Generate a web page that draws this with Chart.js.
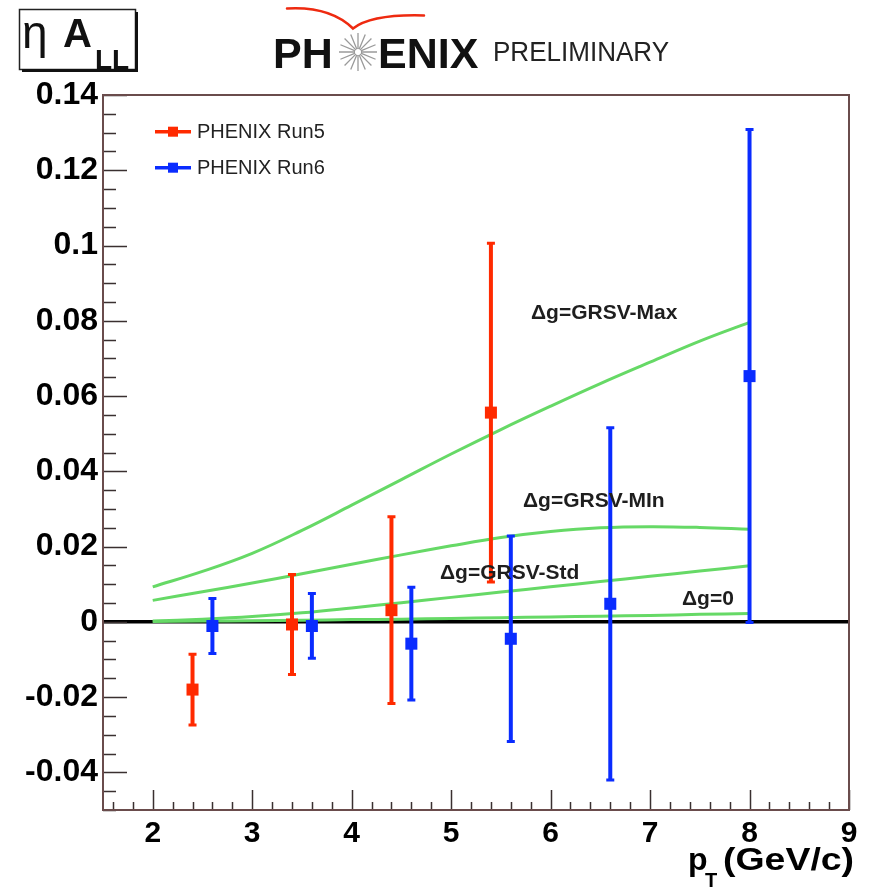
<!DOCTYPE html>
<html><head><meta charset="utf-8">
<script src="https://cdn.jsdelivr.net/npm/chart.js@4.4.1/dist/chart.umd.min.js"></script>
<style>html,body{margin:0;padding:0;background:#fff}canvas{display:block}</style>
</head><body>
<canvas id="c" width="870" height="888"></canvas>
<script>
// ---- data ----
const seriesNames = ['PHENIX Run5', 'PHENIX Run6'];
const pt5   = [2.4, 3.4, 4.4, 5.4];
const asym5 = [-0.0180, -0.0007, 0.0031, 0.0556];
const err5  = [0.0094, 0.0133, 0.0248, 0.0450];
const pt6   = [2.6, 3.6, 4.6, 5.6, 6.6, 8.0];
const asym6 = [-0.0011, -0.0011, -0.0058, -0.0045, 0.0048, 0.0653];
const err6  = [0.0073, 0.0086, 0.0150, 0.0273, 0.0468, 0.0655];

const theoryPt = [2.0, 2.5, 3.0, 3.5, 4.0, 4.5, 5.0, 5.5, 6.0, 6.5, 7.0, 7.5, 8.0];
const grsvMax  = [0.0093, 0.0134, 0.0182, 0.0243, 0.0310, 0.0378, 0.0446, 0.0511, 0.0573, 0.0633, 0.0690, 0.0746, 0.0796];
const grsvMin  = [0.0057, 0.0080, 0.0103, 0.0128, 0.0153, 0.0178, 0.0202, 0.0224, 0.0240, 0.0250, 0.0253, 0.0251, 0.0246];
const grsvStd  = [0.0002, 0.0007, 0.0014, 0.0024, 0.0037, 0.0051, 0.0065, 0.0079, 0.0093, 0.0107, 0.0121, 0.0135, 0.0149];
const dgZero   = [0.0001, 0.0002, 0.0003, 0.0004, 0.0006, 0.0007, 0.0009, 0.0011, 0.0013, 0.0015, 0.0017, 0.0020, 0.0022];
const curveNames = ['\u0394g=GRSV-Max', '\u0394g=GRSV-MIn', '\u0394g=GRSV-Std', '\u0394g=0'];

const zeroLineX = [1.5, 9];
const xTickVals   = [2, 3, 4, 5, 6, 7, 8, 9];
const xTickLabels = ['2', '3', '4', '5', '6', '7', '8', '9'];
const yTickVals   = [-0.04, -0.02, 0, 0.02, 0.04, 0.06, 0.08, 0.1, 0.12, 0.14];
const yTickLabels = ['-0.04', '-0.02', '0', '0.02', '0.04', '0.06', '0.08', '0.1', '0.12', '0.14'];

// ---- styling ----
const FONT = "'Liberation Sans', Arial, Helvetica, sans-serif";
const RED = '#ff2a00', BLUE = '#0a2cff', GREEN = '#66d966';
const xy = (xs, ys) => xs.map((x, i) => ({x, y: ys[i]}));

const errorBars = {
  id: 'errorBars',
  beforeDatasetDraw(chart, args) {
    const ds = chart.data.datasets[args.index];
    if (!ds.errors) return;
    const xs = chart.scales.x, ys = chart.scales.y, ctx = chart.ctx;
    ctx.save();
    ctx.strokeStyle = ds.backgroundColor;
    ds.data.forEach((p, i) => {
      const e = ds.errors[i];
      const px = xs.getPixelForValue(p.x);
      const yt = ys.getPixelForValue(p.y + e), yb = ys.getPixelForValue(p.y - e);
      ctx.lineWidth = 4;
      ctx.beginPath(); ctx.moveTo(px, yt); ctx.lineTo(px, yb); ctx.stroke();
      ctx.lineWidth = 3;
      ctx.beginPath();
      ctx.moveTo(px - 4, yt); ctx.lineTo(px + 4, yt);
      ctx.moveTo(px - 4, yb); ctx.lineTo(px + 4, yb);
      ctx.stroke();
    });
    ctx.restore();
  }
};

const decor = {
  id: 'decor',
  afterDraw(chart) {
    const ctx = chart.ctx, xs = chart.scales.x, ys = chart.scales.y;
    const {left, right, top, bottom} = chart.chartArea;
    ctx.save();
    // ticks (inside)
    ctx.strokeStyle = '#3a3030'; ctx.lineWidth = 1.5;
    ctx.beginPath();
    for (let k = -10; k <= 28; k++) {
      const y = Math.round(ys.getPixelForValue(k * 0.005)) + 0.5;
      const len = (k % 4 === 0) ? 24 : 13;
      ctx.moveTo(left, y); ctx.lineTo(left + len, y);
    }
    for (let k = 8; k <= 45; k++) {
      const x = Math.round(xs.getPixelForValue(k * 0.2)) + 0.5;
      const len = (k % 5 === 0) ? 20 : 8;
      ctx.moveTo(x, bottom); ctx.lineTo(x, bottom - len);
    }
    ctx.stroke();
    // frame
    ctx.strokeStyle = '#6a4c4c'; ctx.lineWidth = 2;
    ctx.strokeRect(left, top, right - left, bottom - top);

    // legend
    ctx.textBaseline = 'middle'; ctx.textAlign = 'left';
    ctx.font = '20px ' + FONT;
    [[RED, 131.7], [BLUE, 167.7]].forEach(([c, y], i) => {
      ctx.strokeStyle = c; ctx.fillStyle = c; ctx.lineWidth = 3.5;
      ctx.beginPath(); ctx.moveTo(155, y); ctx.lineTo(191, y); ctx.stroke();
      ctx.fillRect(168, y - 5, 10, 10);
      ctx.fillStyle = '#222';
      ctx.fillText(seriesNames[i], 197, y + 1);
    });

    // curve labels
    ctx.font = 'bold 21px ' + FONT; ctx.fillStyle = '#1e1e1e';
    ctx.fillText(curveNames[0], 531, 313);
    ctx.fillText(curveNames[1], 523, 501);
    ctx.fillText(curveNames[2], 440, 573);
    ctx.fillText(curveNames[3], 682, 599);

    // axis title
    ctx.textBaseline = 'alphabetic';
    ctx.fillStyle = '#000';
    ctx.textAlign = 'left';
    ctx.font = 'bold 32px ' + FONT;
    ctx.fillText('p', 688, 870);
    ctx.save();
    ctx.translate(723, 870); ctx.scale(1.17, 1);
    ctx.fillText('(GeV/c)', 0, 0);
    ctx.restore();
    ctx.font = 'bold 20px ' + FONT;
    ctx.fillText('T', 705, 887);

    // top-left box: eta A_LL
    ctx.strokeStyle = '#222'; ctx.lineWidth = 1.5;
    ctx.strokeRect(19.5, 9.5, 116, 60);
    ctx.fillStyle = '#111';
    ctx.fillRect(135, 12, 3, 60);
    ctx.fillRect(22, 69, 116, 3);
    ctx.font = '46px ' + FONT;
    ctx.fillText('\u03b7', 22, 48);
    ctx.font = 'bold 40px ' + FONT;
    ctx.fillText('A', 63, 47);
    ctx.font = 'bold 28px ' + FONT;
    ctx.fillText('LL', 95, 69);

    // PHENIX logo
    ctx.font = 'bold 43px ' + FONT;
    ctx.fillStyle = '#111';
    ctx.fillText('PH', 273, 68);
    ctx.fillText('ENIX', 378, 68);
    ctx.strokeStyle = '#9a9a9a'; ctx.lineWidth = 1.3;
    ctx.beginPath();
    for (let i = 0; i < 16; i++) {
      const a = i * Math.PI / 8;
      ctx.moveTo(358 + 3 * Math.cos(a), 52 + 3 * Math.sin(a));
      ctx.lineTo(358 + 19 * Math.cos(a), 52 + 19 * Math.sin(a));
    }
    ctx.stroke();
    ctx.strokeStyle = '#ee2a10'; ctx.lineWidth = 2.5; ctx.lineCap = 'round';
    ctx.beginPath();
    ctx.moveTo(287, 8.5);
    ctx.quadraticCurveTo(330, 6, 353, 28.5);
    ctx.quadraticCurveTo(372, 14, 424, 15.5);
    ctx.stroke();
    ctx.save();
    ctx.translate(493, 61); ctx.scale(0.93, 1);
    ctx.font = '28px ' + FONT; ctx.fillStyle = '#222';
    ctx.fillText('PRELIMINARY', 0, 0);
    ctx.restore();

    ctx.restore();
  }
};

const lineDs = (label, ys) => ({
  type: 'line', label, data: xy(theoryPt, ys), showLine: true,
  borderColor: GREEN, backgroundColor: GREEN, borderWidth: 3,
  pointRadius: 0, tension: 0.4, order: 3
});

new Chart(document.getElementById('c'), {
  type: 'scatter',
  data: {
    datasets: [
      {label: seriesNames[1], data: xy(pt6, asym6), errors: err6, backgroundColor: BLUE, borderColor: BLUE,
       pointStyle: 'rect', pointRadius: 8.5, borderWidth: 0, order: 0},
      {label: seriesNames[0], data: xy(pt5, asym5), errors: err5, backgroundColor: RED, borderColor: RED,
       pointStyle: 'rect', pointRadius: 8.5, borderWidth: 0, order: 1},
      lineDs(curveNames[0], grsvMax),
      lineDs(curveNames[1], grsvMin),
      lineDs(curveNames[2], grsvStd),
      lineDs(curveNames[3], dgZero),
      {type: 'line', label: 'zero', data: zeroLineX.map(x => ({x, y: 0})), showLine: true,
       borderColor: '#000', borderWidth: 3.5, pointRadius: 0, order: 5}
    ]
  },
  options: {
    responsive: false, animation: false, devicePixelRatio: 1,
    layout: {padding: {top: 95, right: 21, left: 0, bottom: 0}},
    plugins: {legend: {display: false}, tooltip: {enabled: false}},
    scales: {
      x: {
        type: 'linear', min: 1.5, max: 9,
        grid: {display: false, drawTicks: false}, border: {display: false},
        afterBuildTicks: s => { s.ticks = xTickVals.map(v => ({value: v})); },
        afterFit: s => { s.height = 78; },
        ticks: {font: {family: FONT, size: 30, weight: 'bold'}, color: '#000', padding: 6,
                maxRotation: 0, autoSkip: false, callback: (v, i) => xTickLabels[i]}
      },
      y: {
        type: 'linear', min: -0.05, max: 0.14,
        grid: {display: false, drawTicks: false}, border: {display: false},
        afterBuildTicks: s => { s.ticks = yTickVals.map(v => ({value: v})); },
        afterFit: s => { s.width = 103; },
        ticks: {font: {family: FONT, size: 32, weight: 'bold'}, color: '#000', padding: 5,
                autoSkip: false, callback: (v, i) => yTickLabels[i]}
      }
    }
  },
  plugins: [errorBars, decor]
});
</script>
</body></html>
